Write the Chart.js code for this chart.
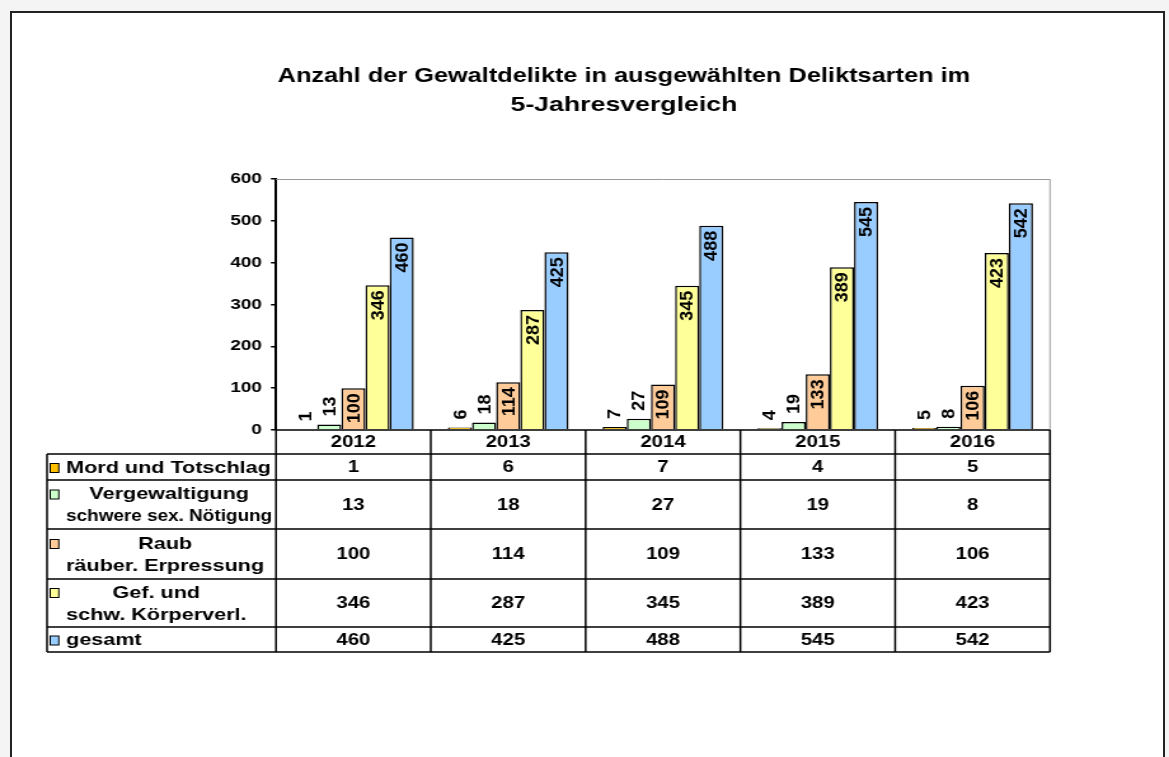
<!DOCTYPE html>
<html lang="de">
<head>
<meta charset="utf-8">
<script src="https://cdn.jsdelivr.net/npm/chart.js@4"></script>
<style>
html, body { margin: 0; padding: 0; background: #f4f4f4; overflow: hidden; }
#page { position: absolute; left: 10px; top: 11px; width: 1151px; height: 800px; background: #fff; border: 2px solid #222; }
#wrap { position: absolute; left: 0; top: 0; width: 920px; height: 757px; transform: scaleX(1.2707); transform-origin: 0 0; }
</style>
</head>
<body>
<div id="page"></div>
<div id="wrap"><canvas id="chart" width="920" height="757"></canvas></div>
<script>
// data
const years = ['2012', '2013', '2014', '2015', '2016'];
const mord = [1, 6, 7, 4, 5];
const vergewaltigung = [13, 18, 27, 19, 8];
const raub = [100, 114, 109, 133, 106];
const koerperverl = [346, 287, 345, 389, 423];
const gesamt = [460, 425, 488, 545, 542];
const yTicks = [0, 100, 200, 300, 400, 500, 600];
const seriesNames = [
    ['Mord und Totschlag'],
    ['Vergewaltigung', 'schwere sex. Nötigung'],
    ['Raub', 'räuber. Erpressung'],
    ['Gef. und', 'schw. Körperverl.'],
    ['gesamt']
];
const titleLines = ['Anzahl der Gewaltdelikte in ausgewählten Deliktsarten im', '5-Jahresvergleich'];

const seriesValues = [mord, vergewaltigung, raub, koerperverl, gesamt];
const seriesColors = ['#ffc000', '#ccffcc', '#ffcc99', '#ffff99', '#99ccff'];

const S = 1169 / 920;          // horizontal stretch of the wrapper
const FONT = '"Liberation Sans", Arial, sans-serif';
const rowHeights = [24, 26, 49, 50, 48, 25];

const labelsPlugin = {
    id: 'barLabels',
    afterDatasetsDraw(chart) {
        const ctx = chart.ctx;
        ctx.save();
        ctx.font = 'bold 18px ' + FONT;
        ctx.fillStyle = '#000';
        ctx.textBaseline = 'middle';
        chart.data.datasets.forEach((ds, di) => {
            chart.getDatasetMeta(di).data.forEach((bar, i) => {
                const txt = String(ds.data[i]);
                const len = ctx.measureText(txt).width;
                const h = bar.base - bar.y;
                ctx.save();
                ctx.translate(bar.x, bar.y);
                ctx.scale(1 / S, 1);
                ctx.rotate(-Math.PI / 2);
                if (h > len + 8) {
                    ctx.textAlign = 'right';
                    ctx.fillText(txt, -5, 1);
                } else {
                    ctx.textAlign = 'left';
                    ctx.fillText(txt, 8, 1);
                }
                ctx.restore();
            });
        });
        ctx.restore();
    }
};

const tablePlugin = {
    id: 'dataTable',
    afterDraw(chart) {
        const ctx = chart.ctx;
        const area = chart.chartArea;
        const xs = chart.scales.x;
        const step = (area.right - area.left) / years.length;
        const tableLeft = 37;
        const lines = [area.bottom];
        rowHeights.forEach(h => lines.push(lines[lines.length - 1] + h));
        const last = lines[lines.length - 1];

        ctx.save();
        // title
        ctx.fillStyle = '#000';
        ctx.textAlign = 'center';
        ctx.textBaseline = 'middle';
        ctx.font = 'bold 21px ' + FONT;
        titleLines.forEach((t, k) => ctx.fillText(t, 491, 76 + k * 29, 545));

        // plot frame (top and right)
        ctx.strokeStyle = '#999';
        ctx.lineWidth = 1;
        ctx.beginPath();
        ctx.moveTo(area.left, area.top + 0.5);
        ctx.lineTo(area.right, area.top + 0.5);
        ctx.lineTo(area.right, area.bottom);
        ctx.stroke();

        // table grid
        ctx.strokeStyle = '#000';
        ctx.lineWidth = 1.5;
        ctx.beginPath();
        ctx.moveTo(area.left, lines[0]);
        ctx.lineTo(area.right, lines[0]);
        for (let r = 1; r < lines.length; r++) {
            ctx.moveTo(tableLeft, lines[r]);
            ctx.lineTo(area.right, lines[r]);
        }
        ctx.moveTo(tableLeft, lines[1]);
        ctx.lineTo(tableLeft, last);
        for (let i = 0; i <= years.length; i++) {
            const x = area.left + i * step;
            ctx.moveTo(x, lines[0]);
            ctx.lineTo(x, last);
        }
        ctx.stroke();

        // header years
        ctx.font = 'bold 16px ' + FONT;
        ctx.textAlign = 'center';
        years.forEach((y, i) => ctx.fillText(y, xs.getPixelForValue(i), (lines[0] + lines[1]) / 2 + 1));

        // rows
        const textLeft = 52;
        const room = area.left - textLeft - 3;
        seriesNames.forEach((name, r) => {
            const top = lines[r + 1], bottom = lines[r + 2];
            const cy = (top + bottom) / 2 + 1;
            ctx.font = 'bold 16px ' + FONT;
            ctx.textAlign = 'center';
            ctx.fillStyle = '#000';
            seriesValues[r].forEach((v, i) => ctx.fillText(String(v), xs.getPixelForValue(i), cy));

            ctx.font = 'bold 17px ' + FONT;
            const lineH = 22;
            const y0 = cy - (name.length - 1) * lineH / 2;
            const widths = name.map(t => Math.min(room, ctx.measureText(t).width));
            const maxW = Math.max(...widths);
            ctx.textAlign = 'left';
            name.forEach((t, k) => ctx.fillText(t, textLeft + (maxW - widths[k]) / 2, y0 + k * lineH, room));

            // legend key
            ctx.fillStyle = seriesColors[r];
            ctx.fillRect(39.5, y0 - 4.5, 6.8, 9);
            ctx.strokeStyle = '#000';
            ctx.lineWidth = 1;
            ctx.strokeRect(39.5, y0 - 4.5, 6.8, 9);
            ctx.fillStyle = '#000';
        });
        ctx.restore();
    }
};

new Chart(document.getElementById('chart'), {
    type: 'bar',
    data: {
        labels: years,
        datasets: seriesValues.map((vals, i) => ({
            label: seriesNames[i].join(' '),
            data: vals,
            backgroundColor: seriesColors[i],
            borderColor: '#000',
            borderWidth: 1.5,
            categoryPercentage: 0.78,
            barPercentage: 1.0
        }))
    },
    options: {
        responsive: false,
        animation: false,
        layout: { padding: { top: 179, right: 93.7, bottom: 327, left: 0 } },
        plugins: { legend: { display: false }, tooltip: { enabled: false }, title: { display: false } },
        scales: {
            x: { display: false },
            y: {
                min: 0,
                max: 600,
                afterBuildTicks: s => { s.ticks = yTicks.map(v => ({ value: v })); },
                afterFit: s => { s.width = 217.2; },
                grid: { drawOnChartArea: false, drawTicks: true, tickLength: 4, color: '#000', lineWidth: 1.5 },
                border: { display: true, color: '#000', width: 2 },
                ticks: { color: '#000', padding: 7, font: { family: FONT, size: 15, weight: 'bold' } }
            }
        }
    },
    plugins: [labelsPlugin, tablePlugin]
});
</script>
</body>
</html>
